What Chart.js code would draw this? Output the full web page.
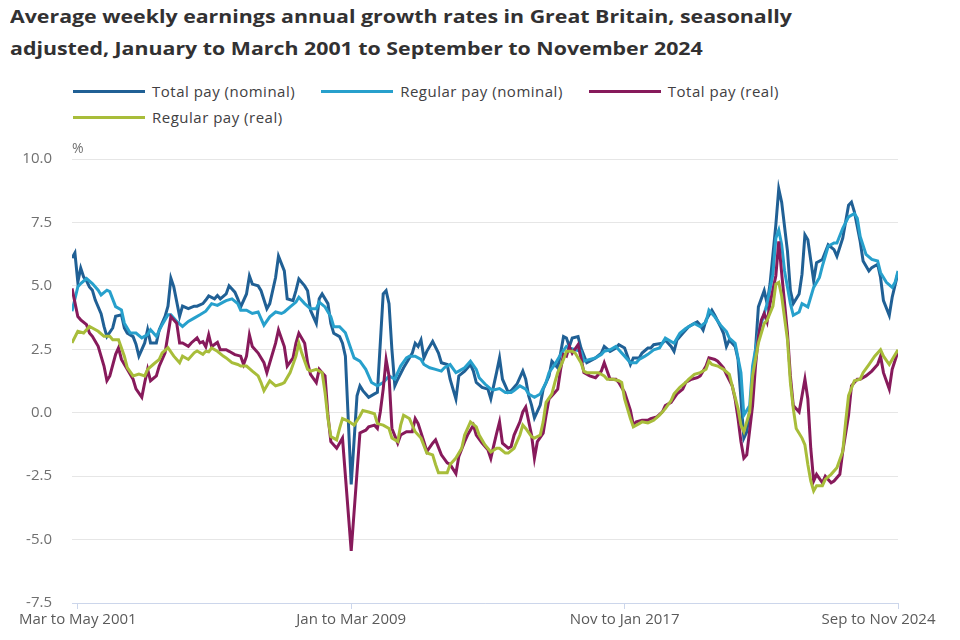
<!DOCTYPE html>
<html lang="en">
<head>
<meta charset="UTF-8">
<title>Average weekly earnings growth</title>
<style>
  body { margin: 0; background: #fff; font-family: "Open Sans", sans-serif; }
  #wrap { position: relative; width: 960px; height: 640px; overflow: hidden; }
  h1 { position: absolute; left: 10px; top: 1px; margin: 0; width: 800px;
       font-size: 17px; font-weight: 700; line-height: 32px; color: #323132;
       transform: scaleX(1.255); transform-origin: 0 0; white-space: nowrap; }
  #legend { position: absolute; left: 73px; top: 78px; width: 880px; display: flex; flex-wrap: wrap; }
  .item { display: flex; align-items: center; height: 26px; margin-right: 26px;
          font-size: 15px; letter-spacing: 0.5px; color: #414042; }
  .swatch { width: 72px; height: 3px; margin-right: 7px; }
  #chart { position: absolute; left: 0; top: 130px; }
</style>
</head>
<body>
<div id="wrap">
  <h1>Average weekly earnings annual growth rates in Great Britain, seasonally<br>adjusted, January to March 2001 to September to November 2024</h1>
  <div id="legend"></div>
  <canvas id="chart" width="960" height="510"></canvas>
</div>
<script src="https://cdn.jsdelivr.net/npm/chart.js"></script>
<script>
// months counted from Jan to Mar 2001 (0) to Sep to Nov 2024 (284), values in %
const totalNominal = [[0,6.1],[1,6.3],[2,5.15],[3,5.7],[4,5.35],[5,5.2],[6,4.96],[7,4.83],[8,4.44],[10,3.9],[11,3.4],[12,3.0],[14,3.34],[15,3.8],[17,3.86],[18,3.34],[19,3.14],[21,3.0],[22,2.7],[23,2.23],[25,2.75],[26,3.27],[27,2.75],[29,2.75],[30,3.27],[32,3.8],[33,4.2],[34,5.3],[35,4.96],[37,3.8],[38,4.2],[40,4.1],[42,4.2],[43,4.2],[45,4.3],[46,4.44],[47,4.6],[49,4.49],[50,4.62],[51,4.49],[53,4.68],[54,5.0],[56,4.75],[57,4.49],[58,4.17],[60,4.68],[61,5.39],[62,5.07],[64,5.0],[65,4.81],[67,4.1],[68,4.3],[70,5.33],[71,6.17],[73,5.59],[74,4.49],[76,4.42],[77,4.81],[78,5.27],[80,5.0],[81,4.81],[82,4.04],[84,3.52],[85,4.49],[86,4.68],[88,4.3],[89,3.52],[90,3.13],[92,3.0],[93,2.74],[94,2.23],[96,-2.83],[98,0.67],[99,1.06],[100,0.87],[102,0.61],[104,0.74],[105,0.8],[106,2.74],[107,4.68],[108,4.81],[109,4.3],[110,2.48],[111,1.06],[112,1.32],[114,1.77],[116,2.16],[117,2.35],[118,2.74],[119,2.61],[120,2.87],[121,2.16],[122,2.42],[124,2.81],[126,2.35],[127,1.97],[129,1.9],[130,1.32],[132,0.54],[133,1.45],[135,1.64],[137,1.9],[138,1.64],[139,1.19],[141,1.0],[143,0.93],[144,0.55],[146,1.6],[147,2.16],[148,1.32],[150,0.8],[151,0.87],[153,1.13],[155,1.64],[156,1.32],[157,0.67],[158,0.3],[159,-0.2],[161,0.3],[162,0.93],[164,1.45],[165,2.03],[167,1.77],[168,2.35],[169,3.0],[170,2.94],[171,2.61],[172,2.94],[174,3.0],[175,2.55],[177,1.97],[178,2.03],[180,2.16],[182,2.35],[183,2.61],[185,2.42],[187,2.55],[188,2.68],[190,2.55],[191,2.23],[192,1.9],[193,2.16],[195,2.16],[196,2.35],[198,2.55],[199,2.55],[200,2.68],[203,2.74],[204,2.87],[205,2.74],[206,2.61],[207,2.42],[208,2.87],[210,3.13],[212,3.39],[214,3.52],[215,3.58],[216,3.45],[217,3.26],[218,3.65],[220,4.04],[221,3.84],[223,3.39],[224,3.13],[225,2.61],[226,2.87],[228,2.61],[229,2.1],[230,0.54],[231,-1.0],[232,-0.75],[234,0.93],[235,2.48],[236,4.17],[238,4.81],[239,4.3],[240,5.07],[242,7.4],[243,8.82],[244,8.3],[246,6.36],[247,4.81],[248,4.3],[250,4.68],[251,5.46],[252,7.01],[253,6.82],[255,5.2],[256,5.91],[258,6.04],[260,6.62],[262,6.43],[263,6.17],[265,6.88],[267,8.18],[268,8.3],[269,7.92],[271,6.75],[272,5.98],[274,5.59],[275,5.72],[277,5.85],[278,5.33],[279,4.42],[281,3.84],[282,4.55],[284,5.52]];

const regularNominal = [[0,4.0],[2,4.96],[3,5.09],[5,5.29],[7,5.09],[9,4.83],[10,4.64],[12,4.83],[13,4.77],[15,4.18],[17,4.05],[18,3.53],[20,3.14],[22,3.14],[24,2.95],[26,3.08],[27,3.27],[29,3.01],[31,3.47],[33,3.86],[34,3.86],[36,3.6],[38,3.4],[40,3.6],[42,3.73],[44,3.86],[46,4.0],[48,4.3],[50,4.23],[52,4.36],[53,4.42],[55,4.49],[57,4.3],[58,4.04],[60,4.04],[62,3.91],[64,3.97],[65,3.71],[66,3.45],[68,3.78],[70,3.97],[72,3.91],[73,3.97],[75,4.17],[77,4.36],[78,4.55],[80,4.3],[82,4.1],[84,4.1],[85,4.36],[87,4.17],[89,3.78],[90,3.39],[92,3.39],[94,3.15],[96,2.48],[97,2.16],[99,2.03],[101,1.71],[103,1.19],[105,1.06],[107,1.19],[109,1.45],[111,1.32],[113,1.84],[115,2.16],[116,2.23],[118,2.23],[120,2.1],[121,1.9],[123,1.77],[125,1.71],[127,1.64],[128,1.77],[130,1.9],[132,1.58],[133,1.64],[135,1.77],[137,2.03],[139,1.71],[140,1.38],[142,1.13],[144,0.93],[145,0.9],[147,0.95],[149,0.8],[151,0.8],[152,0.87],[154,1.06],[156,0.93],[157,0.74],[159,0.61],[161,0.74],[163,1.19],[164,1.58],[166,1.9],[168,2.29],[170,2.61],[171,2.55],[173,2.48],[175,2.42],[176,2.03],[178,2.1],[180,2.16],[182,2.29],[183,2.42],[185,2.48],[187,2.61],[188,2.48],[190,2.23],[192,1.97],[194,1.97],[195,2.1],[197,2.23],[198,2.3],[200,2.48],[202,2.55],[204,2.94],[207,2.74],[209,3.13],[211,3.32],[214,3.52],[216,3.39],[218,3.58],[219,4.04],[221,3.78],[223,3.45],[225,3.2],[226,2.94],[228,2.74],[230,1.58],[231,-0.1],[233,0.28],[234,1.84],[236,3.13],[238,3.91],[239,4.3],[241,5.46],[242,6.88],[243,7.2],[244,6.62],[245,5.59],[247,4.3],[248,3.84],[250,3.97],[251,4.3],[253,4.17],[255,4.94],[257,5.33],[258,5.78],[260,6.56],[262,6.69],[263,6.69],[265,7.27],[267,7.72],[269,7.85],[270,7.66],[271,6.95],[273,6.24],[275,6.04],[277,5.98],[278,5.52],[280,5.14],[282,4.94],[283,5.14],[284,5.59]];

const totalReal = [[0,4.9],[2,3.79],[3,3.66],[5,3.47],[6,3.14],[7,3.01],[9,2.62],[11,1.84],[12,1.26],[13,1.45],[15,2.3],[16,2.56],[17,2.1],[19,1.71],[21,1.32],[22,0.94],[24,0.61],[25,1.19],[26,1.71],[27,1.26],[29,1.45],[30,1.84],[32,2.36],[34,3.79],[36,3.53],[37,2.75],[38,2.75],[40,2.62],[41,2.75],[43,2.95],[44,2.75],[45,2.8],[46,2.6],[47,3.07],[48,2.61],[50,2.77],[51,2.48],[53,2.48],[54,2.42],[56,2.29],[58,2.23],[59,1.9],[60,2.23],[61,3.07],[62,2.61],[64,2.35],[66,1.97],[67,1.58],[68,1.97],[70,2.74],[71,3.26],[73,2.61],[74,1.84],[76,2.16],[77,2.74],[78,3.13],[80,2.74],[81,1.97],[82,1.51],[84,1.19],[85,1.71],[86,1.58],[87,1.45],[88,-0.1],[89,-1.14],[91,-1.4],[92,-1.2],[93,-1.0],[96,-5.45],[99,-0.8],[101,-0.69],[102,-0.56],[104,-0.49],[105,-0.62],[106,0.03],[107,0.93],[108,2.1],[109,1.45],[110,-0.62],[112,-1.2],[113,-0.88],[115,-0.75],[117,-0.75],[118,-0.23],[119,-0.43],[121,-1.14],[122,-1.53],[124,-1.2],[125,-1.07],[127,-1.66],[129,-1.98],[130,-2.04],[132,-2.4],[133,-1.72],[135,-1.14],[136,-0.88],[138,-0.49],[139,-0.88],[141,-1.2],[143,-1.46],[144,-1.8],[145,-1.3],[146,-0.81],[147,-0.36],[148,-1.2],[150,-1.4],[151,-1.33],[152,-0.88],[154,-0.36],[155,0.03],[156,0.22],[158,-0.88],[159,-1.79],[160,-1.14],[162,-0.81],[163,-0.1],[164,0.54],[166,0.8],[167,0.93],[168,1.71],[169,2.29],[170,2.23],[171,2.61],[172,2.35],[174,2.68],[175,2.16],[176,1.58],[178,1.45],[180,1.38],[182,1.64],[183,1.97],[185,1.32],[187,1.32],[188,1.19],[190,0.8],[192,0.09],[193,-0.49],[194,-0.36],[196,-0.3],[198,-0.3],[199,-0.23],[201,-0.17],[203,0.03],[204,0.28],[206,0.41],[208,0.74],[210,0.93],[211,1.19],[213,1.32],[215,1.38],[216,1.45],[218,1.84],[219,2.16],[221,2.1],[222,2.03],[224,1.77],[225,1.51],[227,1.06],[228,0.54],[229,-0.23],[230,-1.14],[231,-1.79],[232,-1.66],[234,0.28],[235,1.84],[236,3.0],[237,3.65],[238,3.91],[239,3.58],[240,4.3],[242,5.4],[243,6.75],[244,5.5],[246,3.13],[247,1.45],[248,0.28],[250,0.03],[251,0.67],[252,1.32],[253,0.54],[254,-1.4],[255,-2.69],[256,-2.43],[258,-2.76],[259,-2.5],[261,-2.76],[262,-2.69],[264,-2.43],[265,-1.53],[267,-0.1],[268,1.06],[270,1.32],[271,1.32],[273,1.45],[275,1.64],[277,1.9],[278,2.23],[279,1.58],[281,0.93],[282,1.71],[284,2.42]];

const regularReal = [[0,2.75],[2,3.21],[4,3.14],[6,3.4],[7,3.34],[9,3.21],[11,3.01],[13,3.01],[14,2.88],[16,2.88],[18,2.23],[19,1.78],[21,1.45],[23,1.52],[25,1.45],[26,1.71],[28,1.91],[30,2.1],[31,2.36],[33,2.56],[35,2.23],[37,1.97],[38,2.23],[40,2.1],[42,2.36],[43,2.43],[45,2.3],[46,2.42],[47,2.4],[48,2.55],[50,2.42],[52,2.23],[53,2.16],[55,1.97],[57,1.9],[58,1.84],[60,1.84],[62,1.64],[64,1.45],[65,1.19],[66,0.87],[68,1.26],[70,1.06],[72,1.13],[73,1.19],[75,1.58],[77,2.23],[78,2.74],[79,2.35],[81,1.71],[82,1.64],[84,1.71],[86,1.58],[87,0.8],[88,-0.23],[89,-0.94],[91,-1.07],[92,-0.62],[93,-0.23],[95,-0.33],[97,-0.49],[99,-0.13],[100,0.09],[102,0.03],[104,-0.04],[105,-0.43],[107,-0.49],[109,-0.62],[110,-1.0],[112,-1.14],[113,-0.49],[114,-0.1],[116,-0.23],[118,-0.75],[120,-1.0],[122,-1.59],[124,-1.66],[125,-2.04],[126,-2.37],[129,-2.37],[130,-2.04],[132,-1.79],[134,-1.4],[135,-0.88],[137,-0.36],[139,-0.56],[140,-0.88],[142,-1.27],[144,-1.55],[146,-1.4],[147,-1.4],[149,-1.59],[150,-1.59],[152,-1.4],[154,-0.88],[155,-0.49],[156,-0.62],[158,-0.94],[159,-1.0],[161,-0.88],[162,-0.36],[163,0.41],[165,0.74],[166,1.19],[167,1.58],[169,2.1],[170,2.42],[172,2.42],[173,2.35],[175,1.97],[176,1.64],[177,1.58],[179,1.58],[181,1.58],[183,1.45],[184,1.32],[186,1.32],[188,1.26],[189,1.19],[190,0.54],[192,-0.23],[193,-0.56],[195,-0.43],[196,-0.36],[198,-0.4],[200,-0.3],[202,-0.1],[204,0.16],[206,0.48],[207,0.74],[209,1.0],[211,1.19],[212,1.32],[214,1.51],[216,1.58],[218,1.71],[219,2.03],[220,1.9],[222,1.84],[224,1.71],[226,1.51],[227,1.06],[229,0.16],[230,-0.49],[231,-0.75],[233,0.03],[234,1.45],[236,2.74],[238,3.52],[239,3.65],[241,4.2],[242,5.07],[243,5.14],[244,4.6],[246,2.87],[247,1.19],[248,0.16],[249,-0.62],[251,-1.0],[252,-1.27],[253,-2.04],[254,-2.69],[255,-3.08],[256,-2.88],[258,-2.88],[259,-2.63],[261,-2.43],[263,-2.17],[265,-1.53],[266,-0.36],[267,0.67],[269,1.26],[271,1.32],[272,1.58],[274,1.9],[276,2.23],[278,2.48],[279,2.23],[281,1.9],[282,2.1],[284,2.48]];

const seriesNames = ['Total pay (nominal)', 'Regular pay (nominal)', 'Total pay (real)', 'Regular pay (real)'];
const seriesColours = ['#206095', '#27a0cc', '#871a5b', '#a8bd3a'];
const tickMonths = [2, 96, 190, 284];
const tickLabels = ['Mar to May 2001', 'Jan to Mar 2009', 'Nov to Jan 2017', 'Sep to Nov 2024'];
const yTicks = [-7.5, -5, -2.5, 0, 2.5, 5, 7.5, 10];

const allSeries = [totalNominal, regularNominal, totalReal, regularReal];

// html legend, left aligned like the original
const legend = document.getElementById('legend');
seriesNames.forEach((name, i) => {
    const item = document.createElement('div');
    item.className = 'item';
    item.innerHTML = `<span class="swatch" style="background:${seriesColours[i]}"></span>${name}`;
    legend.appendChild(item);
});

// little "%" unit above the y axis
const unitLabel = {
    id: 'unitLabel',
    afterDraw(chart) {
        const { ctx, chartArea } = chart;
        ctx.save();
        ctx.font = '14px "Open Sans"';
        ctx.fillStyle = '#707070';
        ctx.textBaseline = 'middle';
        ctx.fillText('%', chartArea.left, chartArea.top - 10);
        ctx.restore();
    }
};

new Chart(document.getElementById('chart'), {
    type: 'line',
    data: {
        datasets: allSeries.map((s, i) => ({
            label: seriesNames[i],
            data: s.map(p => ({ x: p[0], y: p[1] })),
            borderColor: seriesColours[i],
            backgroundColor: seriesColours[i],
            borderWidth: 3,
            pointRadius: 0,
            tension: 0,
            fill: false,
            order: 4 - i
        }))
    },
    options: {
        responsive: false,
        animation: false,
        layout: { padding: { top: 23, right: 62, left: 0, bottom: 0 } },
        plugins: { legend: { display: false }, tooltip: { enabled: false } },
        scales: {
            x: {
                type: 'linear',
                min: 0,
                max: 284,
                afterBuildTicks: scale => { scale.ticks = tickMonths.map(v => ({ value: v })); },
                afterFit: scale => {
                    scale.height = 37;
                    // labels may hang over the edges, keep the plot width fixed
                    scale.paddingLeft = 0;
                    scale.paddingRight = 0;
                },
                ticks: {
                    autoSkip: false,
                    maxRotation: 0,
                    padding: 2,
                    color: '#5a5a5a',
                    font: { family: 'Open Sans', size: 15 },
                    // the last label sits a little left of its tick in the original
                    callback: v => {
                        const i = tickMonths.indexOf(v);
                        return i === tickMonths.length - 1 ? tickLabels[i] + '          ' : tickLabels[i];
                    }
                },
                grid: { drawOnChartArea: false, drawTicks: true, tickLength: 6, color: '#ccd6eb' },
                border: { display: true, color: '#ccd6eb' }
            },
            y: {
                min: -7.5,
                max: 10,
                afterBuildTicks: scale => { scale.ticks = yTicks.map(v => ({ value: v })); },
                afterFit: scale => { scale.width = 72; },
                ticks: {
                    padding: 20,
                    color: '#707070',
                    font: { family: 'Open Sans', size: 15 },
                    callback: v => v.toFixed(1)
                },
                grid: { color: '#e6e6e6', drawTicks: false },
                border: { display: false }
            }
        }
    },
    plugins: [unitLabel]
});
</script>
</body>
</html>
